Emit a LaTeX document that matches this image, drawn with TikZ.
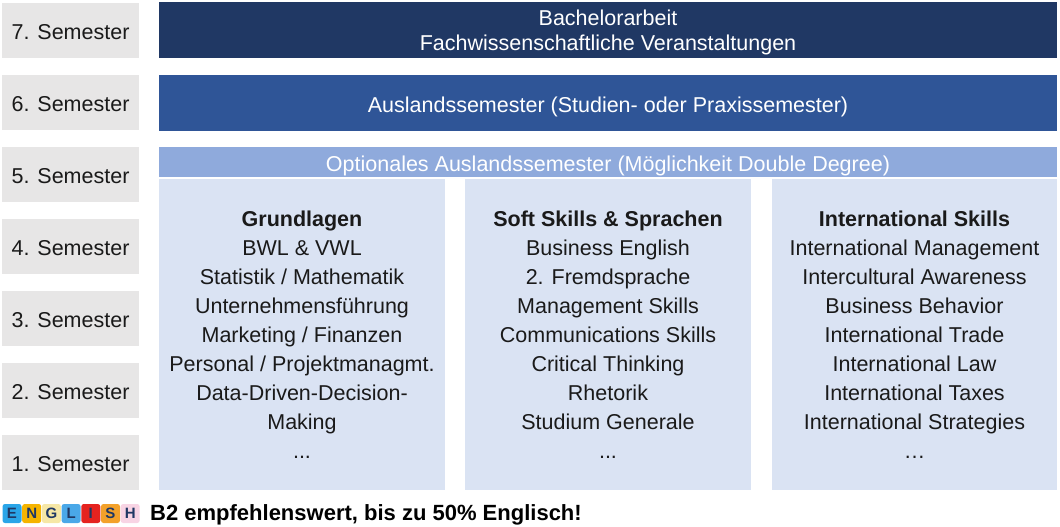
\documentclass[tikz,border=0pt]{standalone}
\usepackage{fontspec}
\setmainfont{Liberation Sans}
\usetikzlibrary{positioning}
\definecolor{semgray}{HTML}{E7E6E6}
\definecolor{navy}{HTML}{203864}
\definecolor{midblue}{HTML}{2F5597}
\definecolor{lightblue}{HTML}{8FAADC}
\definecolor{paleblue}{HTML}{DAE3F3}
\definecolor{inkgray}{HTML}{1A1A1A}
\definecolor{cubeblue}{HTML}{2AA5E8}
\definecolor{cubegold}{HTML}{F5B400}
\definecolor{cubecream}{HTML}{F6E7A6}
\definecolor{cubesky}{HTML}{4AA8E8}
\definecolor{cubered}{HTML}{E5231F}
\definecolor{cubeorange}{HTML}{F3A12A}
\definecolor{cubepink}{HTML}{F8D4E4}
\newcommand{\bodyfont}{\fontsize{21.5}{29}\selectfont}

\tikzset{
  semlabel/.style={fill=semgray, text=inkgray, minimum width=137pt, minimum height=55pt,
    inner sep=0pt, text height=18.5pt, text depth=0pt, font=\bodyfont},
  stripe/.style={fill=#1, text=white, minimum width=898pt, inner sep=0pt, align=center,
    font=\bodyfont},
  oneline/.style={text height=18.5pt, text depth=0pt},
  column/.style={fill=paleblue, text=inkgray, minimum width=286pt, minimum height=311pt,
    inner sep=0pt, align=center, font=\bodyfont},
  cube/.style={fill=#1, text=navy, minimum size=19pt, inner sep=0pt, rounded corners=2.5pt,
    font=\fontsize{15}{15}\selectfont\bfseries}
}

\begin{document}
\begin{tikzpicture}[x=1pt,y=-1pt]
  \useasboundingbox (0,0) rectangle (1060,527);
  % semesters, top to bottom
  \node [semlabel] (S7) at (70.5,30.5) {7. Semester};
  \node [semlabel, on grid, below=72pt of S7] (S6) {6. Semester};
  \node [semlabel, on grid, below=72pt of S6] (S5) {5. Semester};
  \node [semlabel, on grid, below=72pt of S5] (S4) {4. Semester};
  \node [semlabel, on grid, below=72pt of S4] (S3) {3. Semester};
  \node [semlabel, on grid, below=72pt of S3] (S2) {2. Semester};
  \node [semlabel, on grid, below=72pt of S2] (S1) {1. Semester};
  % bars
  \node [stripe=navy, minimum height=56pt, align=none] (Thesis) at (608,30.5)
    {\raisebox{-2pt}[\height][\depth]{\fontsize{21.5}{26}\selectfont
     \begin{tabular}{@{}c@{}}Bachelorarbeit\\[-1pt]Fachwissenschaftliche Veranstaltungen\end{tabular}}};
  \node [stripe=midblue, oneline, minimum height=56pt] (Abroad) at (608,103) {Auslandssemester (Studien- oder Praxissemester)};
  \node [stripe=lightblue, oneline, minimum height=30pt] (Optional) at (608,162) {Optionales Auslandssemester (Möglichkeit Double Degree)};
  % columns
  \node [column] (Basics) at (302,334.5) {\textbf{Grundlagen}\\BWL \& VWL\\Statistik / Mathematik\\Unternehmensführung\\Marketing / Finanzen\\Personal / Projektmanagmt.\\Data-Driven-Decision-\\Making\\...};
  \node [column] (Soft) at (608,334.5) {\textbf{Soft Skills \& Sprachen}\\Business English\\2. Fremdsprache\\Management Skills\\Communications Skills\\Critical Thinking\\Rhetorik\\Studium Generale\\...};
  \node [column, minimum width=285pt] (Intl) at (914.5,334.5) {\textbf{International Skills}\\International Management\\Intercultural Awareness\\Business Behavior\\International Trade\\International Law\\International Taxes\\International Strategies\\\dots};
  % english note
  \foreach \ch/\col [count=\i] in {E/cubeblue, N/cubegold, G/cubecream, L/cubesky, I/cubered, S/cubeorange, H/cubepink}
    \node [cube=\col] (cube\i) at ({-7.7+19.7*\i},513.5) {\ch};
  \node [anchor=west, inner sep=0pt, text=black, font=\fontsize{22}{22}\selectfont\bfseries] (Note) at (150,514.5)
    {B2 empfehlenswert, bis zu 50\% Englisch!};
\end{tikzpicture}
\end{document}
